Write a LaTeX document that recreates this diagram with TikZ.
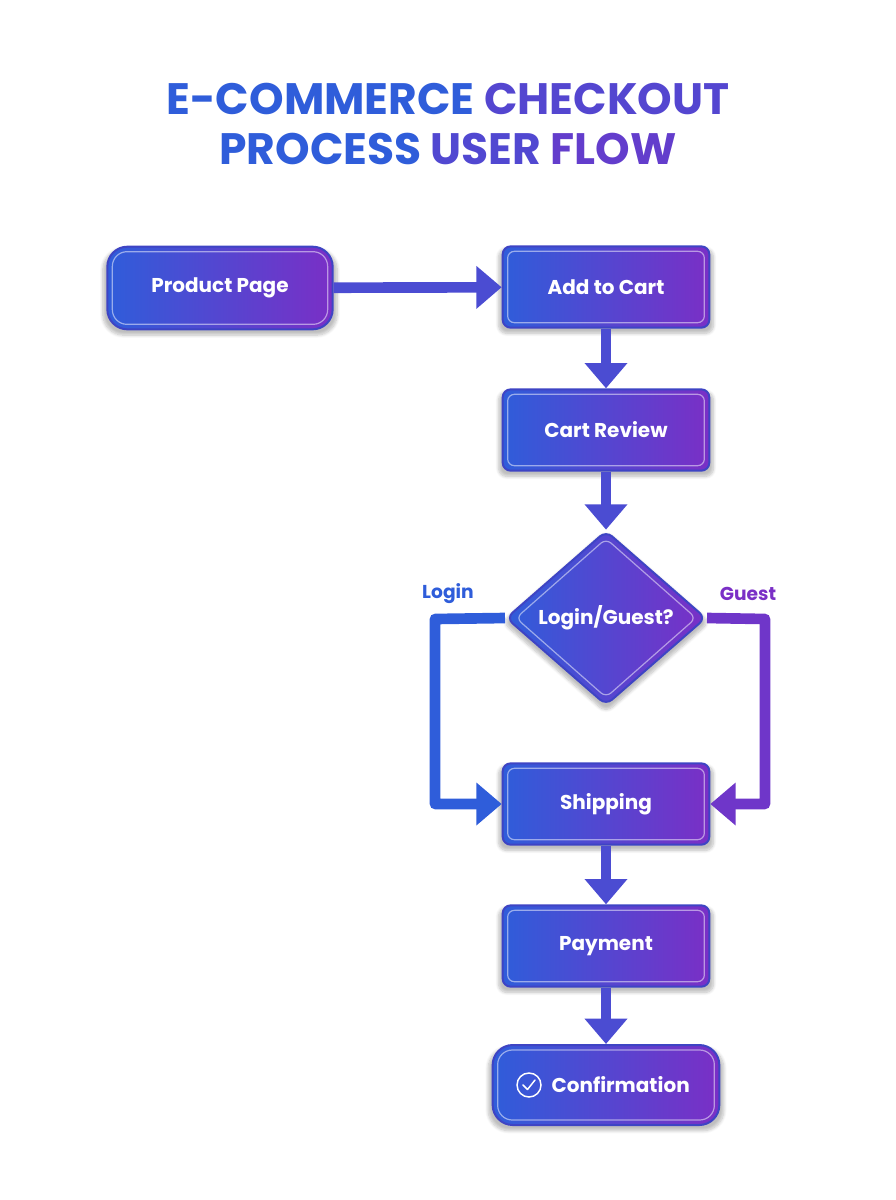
\documentclass[tikz,border=0pt]{standalone}
\usepackage{fontspec}
\setmainfont{Poppins}
\usetikzlibrary{shapes.geometric,arrows.meta,shadows.blur,calc}
\definecolor{cA}{HTML}{2F5DDA}
\definecolor{cB}{HTML}{7A2FC6}
\definecolor{cM}{HTML}{4B4CD2}
\definecolor{cBorder}{HTML}{3E44C4}
\tikzset{
  box/.style={draw=cBorder, line width=1.5pt, left color=cA, right color=cB, text=white,
    font=\fontsize{15}{18}\selectfont\bfseries, inner sep=0pt,
    blur shadow={shadow xshift=0pt, shadow yshift=-3pt, shadow blur steps=8, shadow opacity=25, shadow scale=1.04}},
  rbox/.style={box, rectangle, rounded corners=6pt, minimum width=155pt, minimum height=61pt},
  term/.style={box, rectangle, rounded corners=15pt, minimum height=62pt},
  dia/.style={box, diamond, rounded corners=6pt, minimum width=150pt, minimum height=131pt},
  inner/.style={draw=white, draw opacity=0.5, line width=0.9pt, rounded corners=5pt},
  flow/.style={line width=8pt, draw=cM, -{Triangle[width=31pt,length=19pt]}},
  lbl/.style={font=\fontsize{14}{16}\selectfont\bfseries}
}
\begin{document}
\begin{tikzpicture}[x=0.75pt,y=-0.75pt]
\useasboundingbox (0,0) rectangle (896,1200);
\node[font=\fontsize{33}{40}\selectfont\bfseries, text=cM, align=center] (title) at (448,124)
  {\textcolor{cA}{E-COMMERCE} \textcolor{cA!50!cB}{CHECKOUT}\\[-2pt]\textcolor{cA}{PROCESS} \textcolor{cA!55!cB}{USER} \textcolor{cA!30!cB}{FLOW}};
\node[term, minimum width=169pt] (prod) at (220,288) {Product Page};
\node[rbox] (cart) at (606,287) {Add to Cart};
\node[rbox] (rev) at (606,430) {Cart Review};
\node[dia] (dec) at (606,618) {Login/Guest?};
\node[rbox] (ship) at (606,804) {Shipping};
\node[rbox] (pay) at (606,946) {Payment};
\node[term, minimum width=170pt, minimum height=60pt] (conf) at (606,1085) {\hspace{22pt}Confirmation};
\foreach \n in {cart,rev,ship,pay}
  \draw[inner] ($(\n.south west)+(6,-6)$) rectangle ($(\n.north east)+(-6,6)$);
\foreach \n in {prod,conf}
  \draw[inner, rounded corners=11pt] ($(\n.south west)+(6,-6)$) rectangle ($(\n.north east)+(-6,6)$);
\draw[inner] ($(dec.north)+(0,9)$) -- ($(dec.east)+(-11,0)$) -- ($(dec.south)+(0,-9)$) -- ($(dec.west)+(11,0)$) -- cycle;
\node[circle, draw=white, line width=1.1pt, minimum size=18pt, inner sep=0pt] (chk) at (529,1085) {};
\draw[white, line width=1.1pt, line cap=round, line join=round] ($(chk.center)+(-6,0)$) -- ($(chk.center)+(-1.5,4.5)$) -- ($(chk.center)+(6,-5)$);
\draw[flow] (prod) -- (cart);
\draw[flow] (cart) -- (rev);
\draw[flow] (rev) -- (dec);
\draw[flow] (ship) -- (pay);
\draw[flow] (pay) -- (conf);
\coordinate (lA) at (435,619);
\coordinate (gA) at (765,619);
\draw[flow, draw=cA, line join=round] (dec.west) -- (lA) |- (ship.west);
\draw[flow, draw=cB!85!cA, line join=round] (dec.east) -- (gA) |- (ship.east);
\node[lbl, text=cA] (lbl1) at (448,594) {Login};
\node[lbl, text=cB] (lbl2) at (748,594) {Guest};
\end{tikzpicture}
\end{document}
